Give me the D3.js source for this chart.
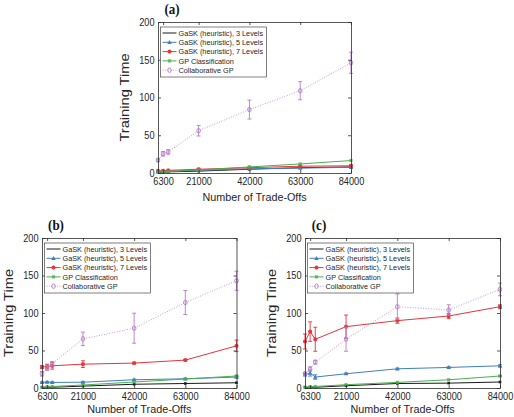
<!DOCTYPE html>
<html>
<head>
<meta charset="utf-8">
<script src="https://cdn.jsdelivr.net/npm/d3@7"></script>
<style>
  body { margin: 0; background: #fff; }
  text { font-family: "Liberation Sans", Arial, sans-serif; fill: #262626; }
</style>
</head>
<body>
<svg id="chart" width="514" height="417"></svg>
<script>
// x values and tick labels
const tradeOffs = [4200, 6300, 8400, 21000, 42000, 63000, 84000];
const xTickValues = [6300, 21000, 42000, 63000, 84000];
const yTickValues = [0, 50, 100, 150, 200];
const seriesLabels = [
    'GaSK (heuristic), 3 Levels',
    'GaSK (heuristic), 5 Levels',
    'GaSK (heuristic), 7 Levels',
    'GP Classification',
    'Collaborative GP'
];

// panel (a)
const a3 = [1, 1, 1.5, 2.5, 5, 7, 8];
const a3Err = [0, 0, 0, 0.3, 0.5, 0.5, 0.5];
const a5 = [2, 2, 2.5, 3.5, 5.5, 6.5, 7.5];
const a5Err = [0.3, 0.3, 0.3, 0.5, 0.5, 0.5, 0.8];
const a7 = [3, 3, 3.5, 5, 7, 9, 9.5];
const a7Err = [0.5, 0.5, 0.5, 1, 1, 1, 1.5];
const aGP = [1, 1.5, 2, 4, 8, 12, 16.5];
const aGPErr = [0, 0, 0, 0.3, 0.5, 0.5, 0.5];
const aCGP = [17, 25.5, 28, 56, 84, 109, 146];
const aCGPErr = [1.5, 3, 3, 7, 12.5, 12, 14];

// panel (b)
const b3 = [1, 1, 1, 2.5, 5, 6, 7];
const b3Err = [0, 0, 0, 0.3, 0.5, 0.5, 0.5];
const b5 = [7.4, 7.9, 7.4, 7.7, 11, 12.3, 14.6];
const b5Err = [0.8, 1, 0.8, 0.8, 0.8, 0.8, 1];
const b7 = [27.9, 28.7, 29.6, 31.8, 33.2, 37.2, 56.2];
const b7Err = [2, 3, 4.5, 4.5, 1, 1, 7.7];
const bGP = [1, 1.5, 2, 4, 8, 12, 16];
const bGPErr = [0, 0, 0, 0.3, 0.5, 0.5, 0.8];
const bCGP = [19, 26.5, 32.3, 65.5, 79.7, 114, 143];
const bCGPErr = [3, 3, 3, 9, 20, 16, 12.7];

// panel (c)
const c3 = [1, 1, 1, 3, 6, 6.5, 8];
const c3Err = [0, 0, 0, 0.3, 0.5, 0.5, 0.5];
const c5 = [17.7, 19.9, 14.6, 19, 25.6, 27.4, 29.6];
const c5Err = [1.5, 4, 3, 1, 1, 1, 1.5];
const c7 = [62, 75.2, 65, 81.8, 89.8, 96, 108.4];
const c7Err = [10, 13, 16, 15.5, 3.5, 3.5, 2.5];
const cGP = [1, 1.5, 2, 4.4, 7.5, 11, 16];
const cGPErr = [0, 0, 0, 0.3, 0.5, 0.5, 0.8];
const cCGP = [19, 25.2, 34.5, 65, 108.4, 104, 131.5];
const cCGPErr = [2, 3, 2.5, 16, 17, 7, 8.5];

const svg = d3.select('#chart');
const K = 1.15;   // the source figure is a little stretched vertically, text included
const axisColor = '#2b2b2b';

const styles = [
    { color: '#1a1a1a', dash: null, marker: 'dot' },
    { color: '#3f80bd', dash: null, marker: 'triangle' },
    { color: '#e3363c', dash: null, marker: 'star' },
    { color: '#4dae4f', dash: null, marker: 'square' },
    { color: '#b57cc8', dash: '1,1.6', marker: 'ring' }
];

const panels = [
    { tag: '(a)', left: 158, right: 351, top: 22, bottom: 173,
      values: [a3, a5, a7, aGP, aCGP], errs: [a3Err, a5Err, a7Err, aGPErr, aCGPErr] },
    { tag: '(b)', left: 42, right: 236.5, top: 238, bottom: 388,
      values: [b3, b5, b7, bGP, bCGP], errs: [b3Err, b5Err, b7Err, bGPErr, bCGPErr] },
    { tag: '(c)', left: 305, right: 500, top: 238, bottom: 388,
      values: [c3, c5, c7, cGP, cCGP], errs: [c3Err, c5Err, c7Err, cGPErr, cCGPErr] }
];

function drawMarker(g, x, y, st) {
    if (st.marker === 'dot') {
        g.append('rect').attr('x', x - 1.3).attr('y', y - 1.3)
            .attr('width', 2.6).attr('height', 2.6).attr('fill', st.color);
    } else if (st.marker === 'triangle') {
        g.append('path')
            .attr('d', `M${x},${y - 2.4}L${x + 2.2},${y + 1.6}L${x - 2.2},${y + 1.6}Z`)
            .attr('fill', st.color);
    } else if (st.marker === 'star') {
        g.append('path')
            .attr('d', `M${x - 2},${y}H${x + 2}M${x},${y - 2}V${y + 2}M${x - 1.5},${y - 1.5}L${x + 1.5},${y + 1.5}M${x - 1.5},${y + 1.5}L${x + 1.5},${y - 1.5}`)
            .attr('stroke', st.color).attr('stroke-width', 1.1);
    } else if (st.marker === 'square') {
        g.append('rect').attr('x', x - 1.6).attr('y', y - 1.6)
            .attr('width', 3.2).attr('height', 3.2)
            .attr('fill', st.color).attr('fill-opacity', 0.8);
    } else {
        g.append('ellipse').attr('cx', x).attr('cy', y).attr('rx', 1.8).attr('ry', 2.2)
            .attr('fill', 'none').attr('stroke', st.color).attr('stroke-width', 0.9);
    }
}

panels.forEach(p => {
    const g = svg.append('g').attr('class', 'panel');

    const x = d3.scaleLinear().domain([4200, 84000]).range([p.left, p.right]);
    const y = d3.scaleLinear().domain([0, 200]).range([p.bottom, p.top]);

    // series
    p.values.forEach((vals, s) => {
        const st = styles[s];
        const pts = tradeOffs.map((t, i) => ({ x: t, y: vals[i], e: p.errs[s][i] }));
        const sg = g.append('g');

        sg.append('path')
            .datum(pts)
            .attr('d', d3.line().x(d => x(d.x)).y(d => y(d.y)))
            .attr('fill', 'none')
            .attr('stroke', st.color)
            .attr('stroke-width', st.dash ? 0.8 : 1)
            .attr('stroke-dasharray', st.dash);

        pts.forEach(d => {
            if (d.e > 0.6) {
                const cx = x(d.x), y1 = y(d.y + d.e), y2 = y(d.y - d.e);
                sg.append('path')
                    .attr('d', `M${cx},${y1}V${y2}M${cx - 2},${y1}H${cx + 2}M${cx - 2},${y2}H${cx + 2}`)
                    .attr('stroke', st.color).attr('stroke-width', 0.9).attr('fill', 'none');
            }
            drawMarker(sg, x(d.x), y(d.y), st);
        });
    });

    // axes (ticks point inward on all four sides)
    const gx = g.append('g').attr('transform', `translate(0,${p.bottom})`)
        .call(d3.axisBottom(x).tickValues(xTickValues).tickFormat(d3.format('d'))
            .tickSize(-3).tickSizeOuter(0).tickPadding(3.8));
    const gt = g.append('g').attr('transform', `translate(0,${p.top})`)
        .call(d3.axisTop(x).tickValues(xTickValues).tickFormat('')
            .tickSize(-3).tickSizeOuter(0));
    const gy = g.append('g').attr('transform', `translate(${p.left},0)`)
        .call(d3.axisLeft(y).tickValues(yTickValues)
            .tickSize(-3).tickSizeOuter(0).tickPadding(3.5));
    const gr = g.append('g').attr('transform', `translate(${p.right},0)`)
        .call(d3.axisRight(y).tickValues(yTickValues).tickFormat('')
            .tickSize(-3).tickSizeOuter(0));

    [gx, gt, gy, gr].forEach(a => {
        a.select('.domain').attr('stroke', axisColor).attr('stroke-width', 0.8);
        a.selectAll('.tick line').attr('stroke', axisColor).attr('stroke-width', 0.8);
        a.selectAll('.tick text')
            .style('font-family', '"Liberation Sans", Arial, sans-serif')
            .style('font-size', '9.2px')
            .attr('fill', axisColor)
            .attr('transform', `scale(1,${K})`);
    });

    // axis titles (bottom row titles kept just inside the page edge)
    const xTitleY = Math.min(p.bottom + 28, 413);
    g.append('text')
        .attr('text-anchor', 'middle')
        .attr('transform', `translate(${(p.left + p.right) / 2},${xTitleY}) scale(1,1.05)`)
        .style('font-size', '10.8px')
        .text('Number of Trade-Offs');

    g.append('text')
        .attr('text-anchor', 'middle')
        .attr('transform', `translate(${p.left - 29},${(p.top + p.bottom) / 2}) rotate(-90) scale(1.22,1)`)
        .style('font-size', '12px')
        .text('Training Time');

    // panel tag
    g.append('text')
        .attr('text-anchor', 'middle')
        .attr('transform', `translate(${p.left + 14},${p.top - 8.5}) scale(1,${K})`)
        .style('font-family', '"Liberation Serif", "Times New Roman", serif')
        .style('font-weight', 'bold')
        .style('font-size', '13px')
        .style('fill', '#111')
        .text(p.tag);

    // legend
    const lx = p.left + 2.5, ly = p.top + 5;
    const lg = g.append('g').attr('class', 'legend');
    lg.append('rect')
        .attr('x', lx).attr('y', ly)
        .attr('width', 106).attr('height', 50)
        .attr('fill', '#fff').attr('stroke', axisColor).attr('stroke-width', 0.6);

    seriesLabels.forEach((label, i) => {
        const st = styles[i];
        const ry = ly + 6 + i * 9.3;
        lg.append('line')
            .attr('x1', lx + 2).attr('x2', lx + 16)
            .attr('y1', ry).attr('y2', ry)
            .attr('stroke', st.color)
            .attr('stroke-width', st.dash ? 0.8 : 1)
            .attr('stroke-dasharray', st.dash);
        if (i > 0) drawMarker(lg, lx + 9, ry, st);
        lg.append('text')
            .attr('transform', `translate(${lx + 18},${ry}) scale(1,1.08)`)
            .attr('dy', '0.35em')
            .style('font-size', '7.3px')
            .text(label);
    });
});
</script>
</body>
</html>
